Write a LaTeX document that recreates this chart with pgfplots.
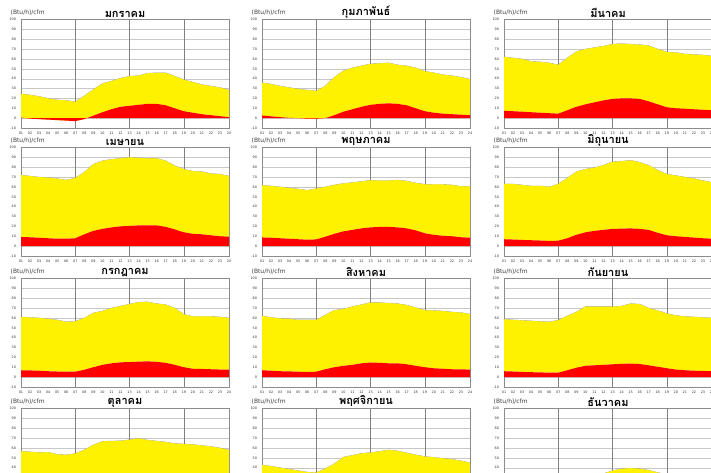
\documentclass[border=0pt]{standalone}
\usepackage{pgfplots}
\pgfplotsset{compat=1.18}
\usepackage{pgfplotstable}
\usepackage{fontspec}
\setmainfont{Liberation Sans}
\newfontfamily\thaifont[Script=Thai]{Loma}
\newfontfamily\lblfont{DejaVu Sans}

% columns: hour, then upper line (U) and red line (R) for each month
\pgfplotstableread{
h  JanU JanR FebU FebR MarU MarR AprU AprR MayU MayR JunU JunR JulU JulR AugU AugR SepU SepR OctU OctR NovU NovR DecU DecR
1  24.5 0.5  36   2.7  62   7.5  72   9.2  61.7 8.8  63   7    61   6.8  62   7    58.7 6    56.7 5.5  42.7 3    30   0
2  23.5 -0.5 34.5 1.8  61   7    71   9    61   8.5  63   6.7  60.5 6.8  60.5 6.5  58   5.7  56   5.2  41.5 2.5  29   -0.5
3  22   -1   32.5 1    60   6.5  70   8.5  60   8    62   6.3  60   6.5  59.5 6    57.5 5.3  55.5 5    40   2    28   -1
4  20   -1.5 31   0.3  57.5 6    69.5 8    59   7.5  61   6    59   6    59   5.8  57   5    55.7 4.8  38.5 1.5  27   -1.5
5  18.5 -2   29.5 0    57   5.5  68.5 7.5  58   7    61   5.7  58   5.7  58   5.5  56.5 4.8  53.5 4.5  37   1    26   -2
6  18   -2.5 28.5 -0.5 56   5    67   7.5  56.6 6.5  60   5.3  56   5.5  58   5.2  56   4.5  53   4.3  35.5 0.5  25   -2.5
7  16.5 -3   27.5 -0.5 54   4.5  69   8    58.3 6.8  63   5.5  56.5 5.5  58   5.5  57.7 4.5  54.3 4.5  35   0.5  24.5 -3
8  22.5 -1   32.5 0    61   8    75   12   60   9.5  69   8    60   7.5  63   8    62   7    58   6.5  39   3    27   -1
9  29   2.5  41.5 3    67.5 11.5 83   15.5 62   12.5 75.5 11.5 65   10   67.8 10   66   9.5  63   9    44   6    30   2
10 35   6    48   6.5  70   14   86.5 17.5 63.5 15   78   14   67   12.5 69   11.5 71.5 11.5 66.7 11   50.7 9    32   5
11 37.5 9    51   9    71.5 16   88   19   64.5 16.5 79.5 15.5 70   14   71.5 12.5 71.5 12   67   12   52.5 11   33   8
12 40.5 11.5 53   11.5 73   18   89   20   65.5 18   82   16.5 72   15   73.5 14   71.5 12.5 67.2 12.5 54.5 12.5 34   10.5
13 42.5 12.5 55   13.5 75   19.5 90   20.5 66.8 19   85.5 17.5 74   15.3 75.5 14.8 71.5 13   68.3 13   55.3 13.5 37   12
14 43   13.5 55.5 14.5 75.5 20   89.5 21   66.5 19.5 86   17.7 76   15.7 75.5 14.5 72   13.5 69.7 13.5 56.5 14   39   13
15 45.5 14.5 56   15   75   20   89   21   66.5 19.5 87   18   76.3 16   75   14   74.5 13.7 68   13.5 58   14.5 39.5 13.5
16 46   14.5 54   14.5 74.5 19.5 89   21   67   19   85   17.5 74.5 15.5 74.5 14   74   13.3 67   13   57   14   39   13
17 46   13   53   13   73.5 17   86.5 19.5 66   18   82   16.5 73.5 14.5 73   13   70   12   66   12   55   12.5 37.5 12
18 42.5 10   51   10   70   14   81.5 17   64   16   77   13.5 70   12.5 70.5 11.5 67.5 10.5 64.5 10.5 53   10   35   9.5
19 39   7    47.5 7    67   11   78   14   62.7 13   73   11   63.7 10   67.8 10   64.5 9    64   9    51.3 8    33.5 6.5
20 36.5 5.5  46   5.5  66.5 10   76   12.5 62.5 11.5 71.5 10   61.5 8.5  67.5 9    62.5 7.7  63.5 8    50.5 6.5  32.5 5
21 34   4    44   4.5  65   9.5  75.5 12   62.5 10.5 70   9.3  61.5 8.3  67   8.5  61.5 7    62.5 7.5  49.5 5.5  31.5 3.5
22 32.5 3    43   4    64.5 9    73.5 11   62   10   68.5 8.7  61.5 8    66   8    61   6.5  61.5 7    48.5 5    31   2.5
23 31   2    41.5 3.5  64   8.5  73   10   60.5 9    66.5 8    61   7.7  65.5 8    60.5 6.3  60   6.5  47   4    30.5 1.5
24 28.5 1    39.5 3    63   8    71   9.5  60.7 8.5  64.5 7.5  60   7.5  63.8 7.5  60   6    58   6    45   3.5  30   0.5
}\data

\pgfplotsset{
  panel/.style={
    scale only axis, width=208bp, height=108.5bp, anchor=south west,
    xmin=1, xmax=24, ymin=-10, ymax=100, clip=false,
    ytick={-10,0,...,100},
    xtick={1,...,24},
    xticklabels={01,02,03,04,05,06,07,08,09,10,11,12,13,14,15,16,17,18,19,20,21,22,23,24},
    tick style={draw=none},
    ymajorgrids, grid style={black!22, line width=0.3pt},
    extra x ticks={7,13,19}, extra x tick labels={},
    extra x tick style={grid=major, major grid style={black!50, line width=0.5pt}},
    axis line style={black!45, line width=0.4pt},
    /pgf/number format/assume math mode=true,
    tick label style={font=\lblfont\fontsize{3.4}{4}\selectfont, black!80},
    xticklabel style={yshift=-0.3bp},
    yticklabel style={xshift=-1.5bp},
    title style={font=\thaifont\bfseries\fontsize{11}{12}\selectfont, at={(0.5,1)}, anchor=south, yshift=-8bp},
    stack plots=y,
  }
}

\newcommand{\panel}[5]{%
\begin{axis}[panel, at={(#1bp,-#2bp)}, title={#3}]
  \addplot[fill=red, draw=none] table[x=h, y=#5]{\data} \closedcycle;
  \addplot[fill=yellow, draw=none] table[x=h, y expr=\thisrow{#4}-\thisrow{#5}]{\data} \closedcycle;
  \addplot[black!45, line width=0.4pt] table[x=h, y expr=0]{\data};
  \node[anchor=west, inner sep=0pt, font=\lblfont\fontsize{6}{6}\selectfont, black!75]
    at (rel axis cs:0,1) [xshift=-10.5bp, yshift=6.5bp] {(Btu/h)/cfm};
\end{axis}}

\begin{document}
\begin{tikzpicture}
\fill[white] (0,0) rectangle (711bp,-473bp);
\panel{21}{128}{มกราคม}{JanU}{JanR}
\panel{262}{128}{กุมภาพันธ์}{FebU}{FebR}
\panel{504}{128}{มีนาคม}{MarU}{MarR}
\panel{21}{256}{เมษายน}{AprU}{AprR}
\panel{262}{256}{พฤษภาคม}{MayU}{MayR}
\panel{504}{256}{มิถุนายน}{JunU}{JunR}
\panel{21}{387}{กรกฎาคม}{JulU}{JulR}
\panel{262}{387}{สิงหาคม}{AugU}{AugR}
\panel{504}{387}{กันยายน}{SepU}{SepR}
\panel{21}{517}{ตุลาคม}{OctU}{OctR}
\panel{262}{517}{พฤศจิกายน}{NovU}{NovR}
\panel{504}{517}{ธันวาคม}{DecU}{DecR}
\pgfresetboundingbox
\path[use as bounding box] (0,0) rectangle (711bp,-473bp);
\end{tikzpicture}
\end{document}
